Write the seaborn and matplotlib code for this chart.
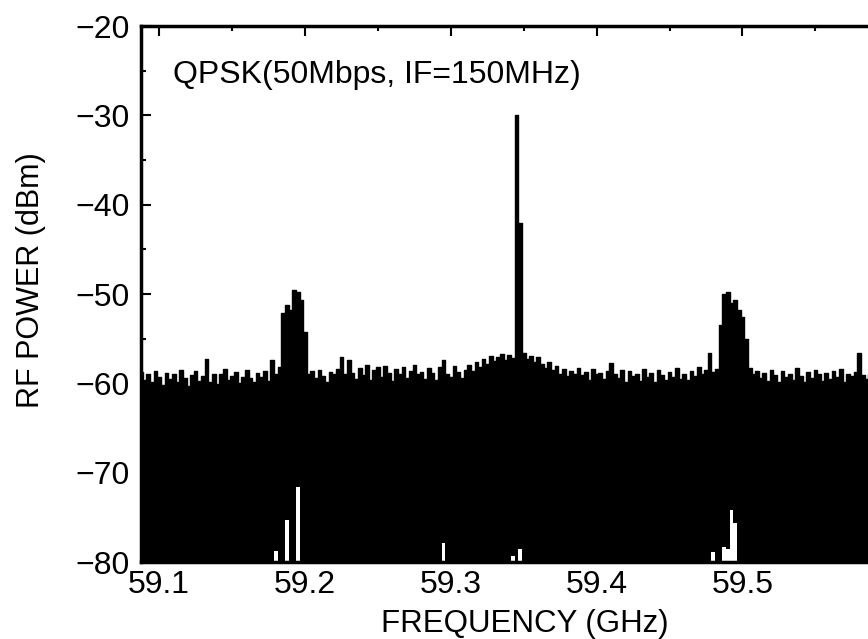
import numpy as np
import seaborn as sns
import matplotlib.pyplot as plt
from matplotlib.ticker import MultipleLocator

sns.set_theme(style='ticks')
plt.rcParams['font.family'] = ['Liberation Sans', 'DejaVu Sans']

# Spectrum analyser sweep: 201 points over 0.5 GHz span.
f_start, f_stop = 59.0875, 59.5875
freq = np.linspace(f_start, f_stop, 201)

# Upper envelope of the trace (dBm).
power = [
    -58.7, -59.6, -58.9, -59.8, -58.6, -59.3, -60.2, -58.8, -59.5, -59.0,
    -59.9, -58.5, -59.4, -60.3, -59.1, -58.6, -59.7, -59.2, -57.3, -59.8,
    -58.9, -60.1, -59.0, -58.4, -59.6, -59.2, -58.7, -60.0, -59.3, -58.5,
    -59.4, -59.9, -58.8, -59.3, -58.6, -59.7, -57.4, -58.9, -58.2, -52.1,
    -51.2, -51.8, -49.6, -49.8, -50.7, -54.2, -59.0, -58.6, -59.4, -58.5,
    -59.2, -59.8, -58.7, -59.0, -58.4, -57.0, -58.9, -57.4, -58.8, -59.5,
    -58.3, -59.1, -58.0, -59.6, -58.5, -58.2, -59.3, -58.1, -58.8, -59.7,
    -58.4, -58.9, -58.2, -59.4, -58.6, -58.0, -59.0, -58.7, -59.5, -58.3,
    -58.8, -59.6, -58.2, -57.4, -58.9, -59.3, -58.1, -58.7, -59.4, -58.5,
    -57.9, -58.6, -57.6, -58.2, -57.3, -57.8, -56.9, -57.5, -57.0, -56.7,
    -57.4, -56.8, -57.2, -30.0, -42.0, -56.6, -57.3, -56.9, -57.6, -57.1,
    -57.8, -58.3, -57.6, -58.5, -58.1, -58.9, -58.4, -59.2, -58.6, -59.0,
    -58.3, -59.1, -58.7, -59.6, -58.4, -59.0, -58.8, -59.5, -58.6, -57.7,
    -58.9, -59.4, -58.5, -59.8, -58.6, -59.2, -58.9, -59.7, -58.4, -59.3,
    -58.8, -59.9, -58.5, -59.1, -59.6, -58.7, -59.3, -58.3, -59.5, -58.9,
    -59.6, -58.6, -59.2, -58.2, -59.0, -58.5, -56.6, -58.7, -58.4, -53.5,
    -50.0, -49.8, -51.0, -50.7, -51.8, -52.6, -55.0, -58.3, -59.0, -58.6,
    -59.4, -58.8, -59.7, -58.5, -59.1, -59.8, -58.6, -59.3, -58.9, -59.6,
    -58.3, -59.2, -59.9, -58.7, -59.4, -58.5, -59.0, -59.7, -58.8, -59.5,
    -58.6, -59.3, -58.4, -59.8, -58.9, -59.2, -58.7, -56.6, -59.1, -59.5,
    -59.0,
]

# Places where the lower envelope lifts off the -80 dBm floor.
dip_freq = [59.180, 59.1875, 59.195, 59.295, 59.3425, 59.3475,
            59.480, 59.4875, 59.490, 59.4925, 59.495]
dip_level = [-78.8, -75.3, -71.6, -77.9, -79.3, -78.5,
             -78.9, -78.3, -78.6, -74.2, -75.6]

floor = np.full(len(freq), -80.0)
floor[np.searchsorted(freq, np.array(dip_freq) - 1e-6)] = dip_level

fig = plt.figure(figsize=(8.68, 6.39), dpi=100)
ax = fig.add_axes([141 / 868, 77 / 639, 729 / 868, 536 / 639])

ax.fill_between(freq, floor, power, step='mid', color='black', lw=0)
sns.lineplot(x=freq, y=power, drawstyle='steps-mid', color='black', lw=1, ax=ax)

ax.set_xlim(f_start, f_stop)
ax.set_ylim(-80, -20)
ax.xaxis.set_major_locator(MultipleLocator(0.1))
ax.xaxis.set_minor_locator(MultipleLocator(0.05))
ax.yaxis.set_major_locator(MultipleLocator(10))
ax.yaxis.set_minor_locator(MultipleLocator(5))
ax.xaxis.set_major_formatter(plt.FuncFormatter(lambda v, p: f'{v:.1f}'))
ax.tick_params(which='both', direction='in', top=True, right=False,
               width=1.5, labelsize=23, colors='black')
ax.tick_params(which='major', length=7)
ax.tick_params(which='minor', length=3.5)
ax.tick_params(axis='x', pad=6)
ax.tick_params(axis='y', pad=8)
for side in ax.spines.values():
    side.set_linewidth(2.5)
    side.set_color('black')

ax.set_xlabel('FREQUENCY (GHz)', fontsize=22.5, color='black')
ax.set_ylabel('RF POWER (dBm)', fontsize=22, color='black')
ax.xaxis.set_label_coords(0.527, -0.088)
ax.yaxis.set_label_coords(-0.13, 0.526)

ax.text(0.044, 0.894, 'QPSK(50Mbps, IF=150MHz)', transform=ax.transAxes,
        fontsize=23, va='baseline', ha='left', color='black')

fig.savefig('out.png', dpi=100)
